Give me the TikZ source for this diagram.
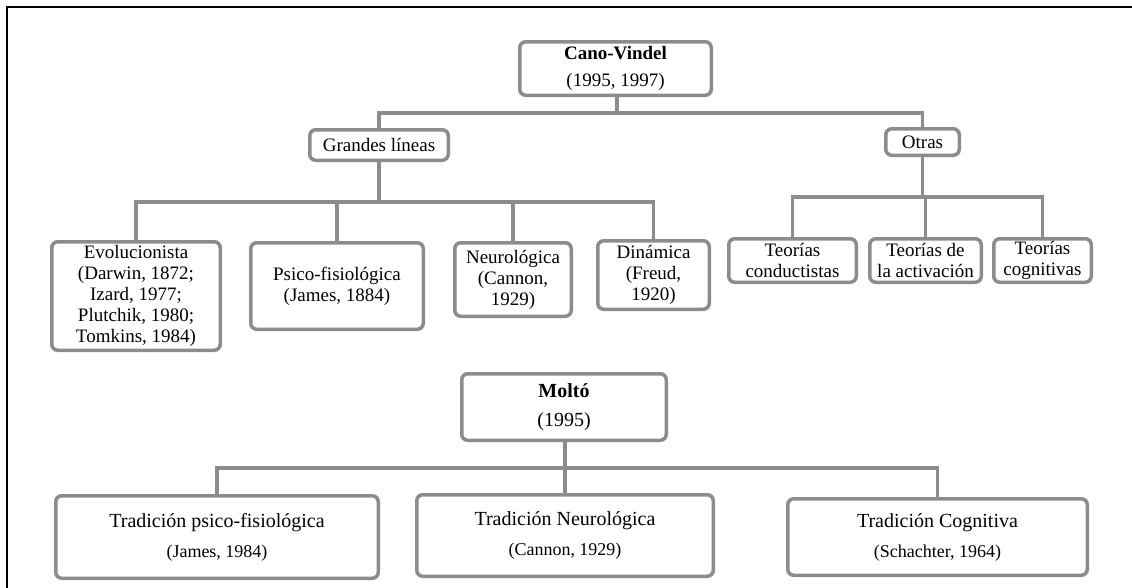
\documentclass[tikz,border=0pt]{standalone}
\usepackage{fontspec}
\setmainfont{Liberation Serif}
\definecolor{boxgray}{RGB}{140,140,140}
\tikzset{
  box/.style={draw=boxgray, line width=3.5pt, rounded corners=6pt, fill=white,
    inner sep=0pt, align=center, font=\fontsize{19}{21}\selectfont},
  conn/.style={draw=boxgray, line width=3.5pt},
  frame/.style={draw=black, line width=2.5pt}
}
\begin{document}
\begin{tikzpicture}[x=1pt,y=-1pt]
\useasboundingbox (0,0) rectangle (1132,587);
\clip (0,0) rectangle (1132,587);
\fill[white] (0,0) rectangle (1132,587);
\coordinate (fbl) at (7,600);
\coordinate (ftl) at (7,7);
\coordinate (ftr) at (1140,7);
\draw[frame] (fbl) -- (ftl) -- (ftr);

% Cano-Vindel tree
\node[box, minimum width=191.5pt, minimum height=53.5pt] (cv) at (615.5,68.5)
  {\textbf{Cano-Vindel}\\[6pt](1995, 1997)};
\node[box, minimum width=138.5pt, minimum height=30.5pt] (gl) at (379,145) {Grandes líneas};
\node[box, minimum width=73.5pt, minimum height=26.5pt] (ot) at (922.5,142) {Otras};

\node[box, minimum width=168.5pt, minimum height=108.5pt] (ev) at (136,296)
  {Evolucionista\\(Darwin, 1872;\\Izard, 1977;\\Plutchik, 1980;\\Tomkins, 1984)};
\node[box, minimum width=172.5pt, minimum height=86.5pt] (ps) at (337,286)
  {Psico-fisiológica\\(James, 1884)};
\node[box, minimum width=116.5pt, minimum height=73.5pt] (ne) at (513,279.5)
  {Neurológica\\(Cannon,\\1929)};
\node[box, minimum width=111.5pt, minimum height=68.5pt] (di) at (653.5,275)
  {Dinámica\\(Freud,\\1920)};

\node[box, minimum width=127.5pt, minimum height=43.5pt] (tc) at (792.5,260.5)
  {Teorías\\conductistas};
\node[box, minimum width=111.5pt, minimum height=43.5pt] (ta) at (925.5,260.5)
  {Teorías de\\la activación};
\node[box, minimum width=97.5pt, minimum height=43.5pt] (tg) at (1042.5,260.5)
  {Teorías\\cognitivas};

\coordinate (bus1) at (617,113);
\coordinate (bus2) at (379,202);
\coordinate (bus3) at (923,197);

\draw[conn] (cv.south -| bus1) -- (bus1);
\draw[conn] (gl.north) -- (gl.north |- bus1) -- (ot.north |- bus1) -- (ot.north);

\draw[conn] (gl.south) -- (bus2);
\draw[conn] (ev.north) -- (ev.north |- bus2) -- (di.north |- bus2) -- (di.north);
\draw[conn] (ps.north) -- (ps.north |- bus2);
\draw[conn] (ne.north) -- (ne.north |- bus2);

\draw[conn] (ot.south) -- (ot.south |- bus3);
\draw[conn] (tc.north) -- (tc.north |- bus3) -- (tg.north |- bus3) -- (tg.north);
\draw[conn] (ta.north) -- (ta.north |- bus3);

% Moltó tree
\node[box, minimum width=204.5pt, minimum height=66.5pt] (mo) at (564,407)
  {\fontsize{20}{22}\selectfont\textbf{Moltó}\\[8pt]\fontsize{20}{22}\selectfont(1995)};
\node[box, minimum width=322.5pt, minimum height=82.5pt] (tp) at (217,537)
  {\fontsize{20}{22}\selectfont Tradición psico-fisiológica\\[9pt]\fontsize{18}{20}\selectfont(James, 1984)};
\node[box, minimum width=296.5pt, minimum height=81.5pt] (tn) at (565,535.5)
  {\fontsize{20}{22}\selectfont Tradición Neurológica\\[9pt]\fontsize{18}{20}\selectfont(Cannon, 1929)};
\node[box, minimum width=299.5pt, minimum height=76.5pt] (tq) at (937.5,537)
  {\fontsize{20}{22}\selectfont Tradición Cognitiva\\[9pt]\fontsize{18}{20}\selectfont(Schachter, 1964)};

\coordinate (bus4) at (565,468);
\draw[conn] (mo.south -| bus4) -- (tn.north -| bus4);
\draw[conn] (tp.north) -- (tp.north |- bus4) -- (tq.north |- bus4) -- (tq.north);
\end{tikzpicture}
\end{document}
